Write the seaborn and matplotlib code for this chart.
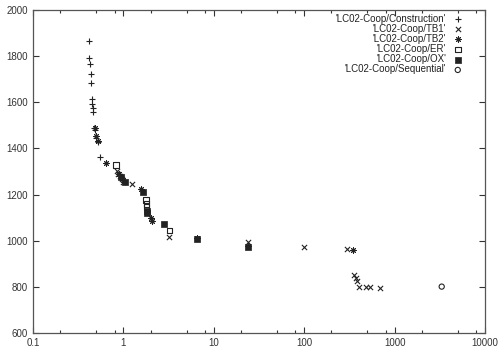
import matplotlib
matplotlib.use("Agg")
import matplotlib.pyplot as plt
import matplotlib.ticker as mticker
import seaborn as sns
import pandas as pd

# ---- data ----
construction_x = [0.416, 0.42, 0.424, 0.435, 0.435, 0.446, 0.453, 0.457, 0.465, 0.476, 0.485, 0.497, 0.519, 0.551]
construction_y = [1865, 1793, 1766, 1722, 1685, 1614, 1592, 1576, 1558, 1490, 1480, 1445, 1429, 1364]

tb1_x = [0.85, 0.88, 0.92, 0.97, 1.0, 1.24, 3.22, 24, 100, 295, 356, 374, 381, 407, 483, 534, 689]
tb1_y = [1300, 1290, 1280, 1268, 1255, 1244, 1015, 995, 971, 963, 851, 837, 827, 801, 798, 798, 796]

tb2_x = [0.48, 0.50, 0.52, 0.64, 0.90, 1.0, 1.55, 2.0, 2.06, 6.5, 24, 344]
tb2_y = [1490, 1455, 1430, 1335, 1290, 1262, 1223, 1097, 1087, 1010, 977, 960]

er_x = [0.83, 1.78, 1.80, 1.80, 3.22]
er_y = [1329, 1176, 1160, 1145, 1045]

ox_x = [0.95, 1.05, 1.66, 1.81, 1.81, 2.81, 6.5, 24]
ox_y = [1275, 1255, 1211, 1130, 1120, 1072, 1008, 972]

seq_x = [3319]
seq_y = [801]

series_names = ["'LC02-Coop/Construction'", "'LC02-Coop/TB1'", "'LC02-Coop/TB2'",
                "'LC02-Coop/ER'", "'LC02-Coop/OX'", "'LC02-Coop/Sequential'"]

x_ticks = [0.1, 1, 10, 100, 1000, 10000]
x_tick_labels = ["0.1", "1", "10", "100", "1000", "10000"]
y_ticks = [600, 800, 1000, 1200, 1400, 1600, 1800, 2000]

# ---- plot ----
sns.set_style("ticks")
plt.rcParams['font.family'] = ['Liberation Sans', 'DejaVu Sans']

fig = plt.figure(figsize=(4.98, 3.55), dpi=100)
ax = fig.add_axes([0.0663, 0.062, 0.9076, 0.910])

ink = "#222222"
data = [
    (construction_x, construction_y, dict(marker="+", s=22, color=ink, linewidth=0.8)),
    (tb1_x, tb1_y, dict(marker="x", s=14, color=ink, linewidth=0.8)),
    (tb2_x, tb2_y, dict(marker=(8, 2, 0), s=15, color=ink, linewidth=0.7)),
    (er_x, er_y, dict(marker="s", s=16, facecolor="none", edgecolor=ink, linewidth=0.8)),
    (ox_x, ox_y, dict(marker="s", s=14, color=ink, edgecolor=ink, linewidth=0.5)),
    (seq_x, seq_y, dict(marker="o", s=14, facecolor="none", edgecolor=ink, linewidth=0.8)),
]
for (xs, ys, kw), name in zip(data, series_names):
    df = pd.DataFrame({"x": xs, "y": ys})
    sns.scatterplot(data=df, x="x", y="y", ax=ax, label=name, **kw)

ax.set_xscale("log")
ax.set_xlim(0.1, 10000)
ax.set_ylim(600, 2000)
ax.set_xticks(x_ticks)
ax.set_xticklabels(x_tick_labels)
ax.xaxis.set_minor_locator(mticker.LogLocator(base=10, subs=[2, 5, 8]))
ax.xaxis.set_minor_formatter(mticker.NullFormatter())
ax.set_yticks(y_ticks)
ax.set_xlabel("")
ax.set_ylabel("")

ax.tick_params(which="both", direction="in", top=True, right=True, labelsize=7,
               colors="#333333", width=0.8)
ax.tick_params(which="major", length=4)
ax.tick_params(which="minor", length=2.5)
for sp in ax.spines.values():
    sp.set_visible(True)
    sp.set_color("#555555")
    sp.set_linewidth(0.9)

leg = ax.legend(loc="upper right", markerfirst=False, frameon=False, fontsize=7,
                labelspacing=0.02, handletextpad=0.4, handlelength=1.6,
                borderaxespad=0.3, bbox_to_anchor=(0.972, 1.01))
for t in leg.get_texts():
    t.set_color("#222222")

fig.savefig("out.png", dpi=100)
